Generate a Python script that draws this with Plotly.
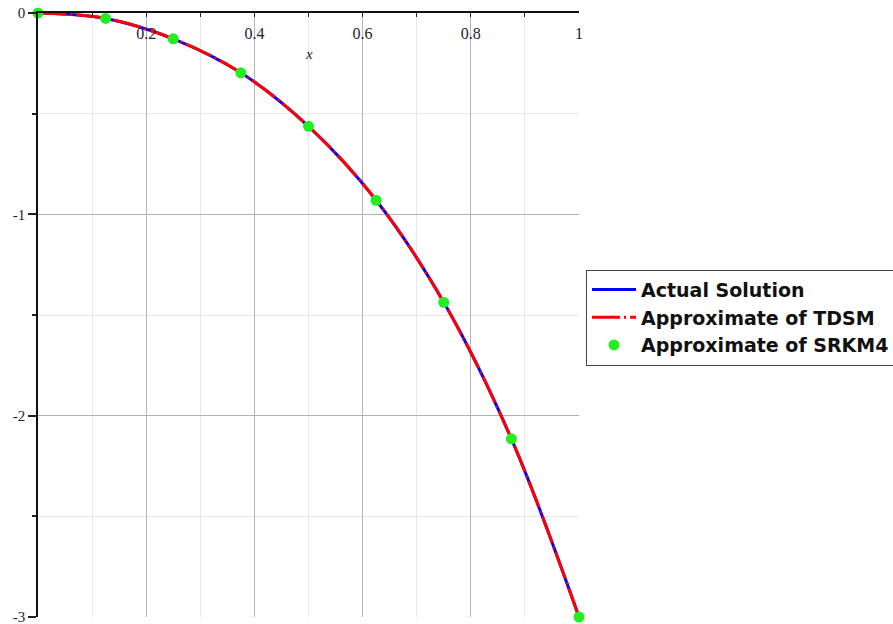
import plotly.graph_objects as go

# Data
x_nodes = [0.0, 0.125, 0.25, 0.375, 0.5, 0.625, 0.75, 0.875, 1.0]
actual_y = [0.0, -0.027, -0.128, -0.297, -0.563, -0.930, -1.437, -2.115, -3.0]
tdsm_y = [0.0, -0.027, -0.128, -0.297, -0.563, -0.930, -1.437, -2.115, -3.0]
srkm4_y = [0.0, -0.027, -0.128, -0.297, -0.563, -0.930, -1.437, -2.115, -3.0]

x_tickvals = [0.2, 0.4, 0.6, 0.8, 1.0]
x_ticktext = ["0.2", "0.4", "0.6", "0.8", "1"]
y_tickvals = [0, -1, -2, -3]
y_ticktext = ["0", "-1", "-2", "-3"]

fig = go.Figure()
fig.add_trace(go.Scatter(
    x=x_nodes, y=actual_y, mode="lines", name="Actual Solution",
    line=dict(color="#0000ff", width=3, shape="spline"), cliponaxis=False))
fig.add_trace(go.Scatter(
    x=x_nodes, y=tdsm_y, mode="lines", name="Approximate of TDSM",
    line=dict(color="#ff0000", width=3, shape="spline", dash="28px,4px,2px,4px"),
    cliponaxis=False))
fig.add_trace(go.Scatter(
    x=x_nodes, y=srkm4_y, mode="markers", name="Approximate of SRKM4",
    xaxis="x2",
    marker=dict(color="#22ee22", size=11), cliponaxis=False))

xtickfont = dict(family="Liberation Serif", size=16, color="#222233")
ytickfont = dict(family="Liberation Serif", size=15, color="#222233")

fig.update_layout(
    width=893, height=624,
    margin=dict(l=38, r=314, t=13, b=7, autoexpand=False),
    paper_bgcolor="white", plot_bgcolor="white",
    showlegend=True,
    legend=dict(
        x=1.013, y=0.575, xanchor="left", yanchor="top",
        bgcolor="white", bordercolor="#444444", borderwidth=1,
        font=dict(family="DejaVu Sans", size=19, color="#111111", weight="bold"),
        itemwidth=44, tracegroupgap=0,
    ),
    xaxis=dict(
        range=[0, 1], side="top",
        tickvals=x_tickvals, showticklabels=False,
        ticks="inside", ticklen=4, tickcolor="#222222", tickwidth=1,
        showline=True, linecolor="#111111", linewidth=1.5,
        showgrid=True, gridcolor="#b4b4b4", gridwidth=1,
        minor=dict(dtick=0.1, ticks="inside", ticklen=4, tickcolor="#222222",
                   showgrid=True, gridcolor="#e8e8e8", gridwidth=1),
        zeroline=False,
    ),
    xaxis2=dict(
        range=[0, 1], overlaying="x", anchor="free", position=1, side="bottom",
        tickvals=x_tickvals, ticktext=x_ticktext,
        ticks="", ticklabelstandoff=9, ticklabeloverflow="allow",
        tickfont=xtickfont,
        showline=False, showgrid=False, zeroline=False,
    ),
    yaxis=dict(
        range=[-3, 0],
        tickvals=y_tickvals, ticktext=y_ticktext,
        ticks="outside", ticklen=8, tickcolor="#222222", tickwidth=1.5,
        tickfont=ytickfont, ticklabeloverflow="allow",
        showline=True, linecolor="#111111", linewidth=1.5,
        showgrid=True, gridcolor="#b4b4b4", gridwidth=1,
        minor=dict(dtick=0.5, ticks="outside", ticklen=4, tickcolor="#222222",
                   showgrid=True, gridcolor="#e8e8e8", gridwidth=1),
        zeroline=False,
    ),
    annotations=[dict(
        x=0.5, y=-0.205, xref="x", yref="y", text="<i>x</i>", showarrow=False,
        font=dict(family="Liberation Serif", size=15, color="#222233"))],
)

fig.write_html("out.html", config={"displayModeBar": False},
               post_script="document.body.style.margin='0';")
